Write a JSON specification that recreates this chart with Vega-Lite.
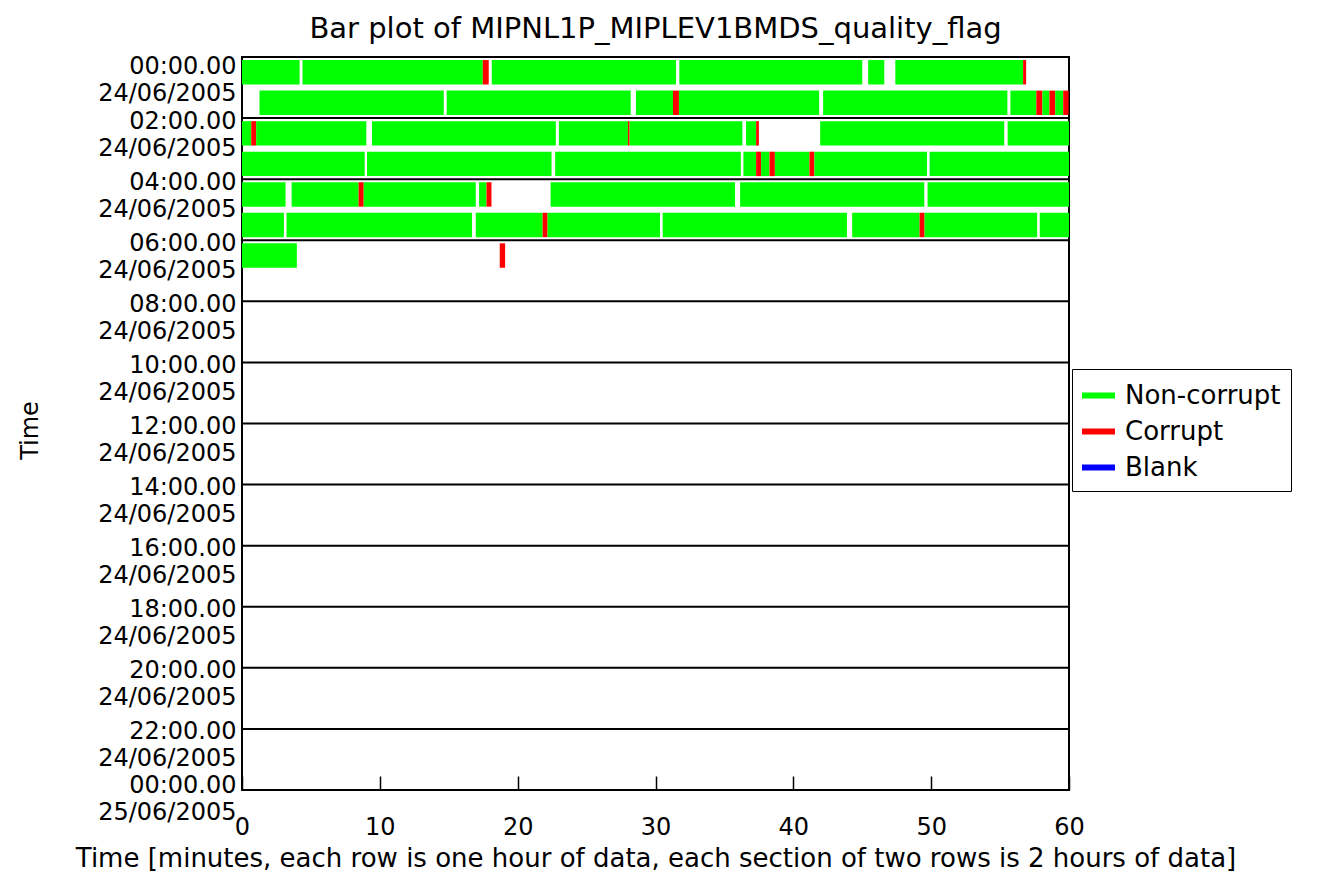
{
  "$schema": "https://vega.github.io/schema/vega-lite/v6.json",
  "width": 827,
  "height": 733,
  "autosize": {"type": "none"},
  "padding": {"left": 242, "top": 57, "right": 263, "bottom": 85},
  "background": "white",
  "title": {"text": "Bar plot of MIPNL1P_MIPLEV1BMDS_quality_flag", "fontSize": 29, "font": "DejaVu Sans", "fontWeight": "normal", "color": "black", "offset": 10},
  "config": {"view": {"stroke": "black", "strokeWidth": 2}, "font": "DejaVu Sans"},
  "layer": [
    {
      "data": {"values": [
        {"h":0,"s":0,"e":4.18,"f":"Non-corrupt"},
        {"h":0,"s":4.39,"e":17.47,"f":"Non-corrupt"},
        {"h":0,"s":17.47,"e":17.9,"f":"Corrupt"},
        {"h":0,"s":18.12,"e":31.49,"f":"Non-corrupt"},
        {"h":0,"s":31.73,"e":45.0,"f":"Non-corrupt"},
        {"h":0,"s":45.43,"e":46.6,"f":"Non-corrupt"},
        {"h":0,"s":47.4,"e":56.67,"f":"Non-corrupt"},
        {"h":0,"s":56.67,"e":56.89,"f":"Corrupt"},
        {"h":1,"s":1.27,"e":14.64,"f":"Non-corrupt"},
        {"h":1,"s":14.85,"e":28.2,"f":"Non-corrupt"},
        {"h":1,"s":28.58,"e":31.27,"f":"Non-corrupt"},
        {"h":1,"s":31.27,"e":31.7,"f":"Corrupt"},
        {"h":1,"s":31.7,"e":41.87,"f":"Non-corrupt"},
        {"h":1,"s":42.16,"e":55.53,"f":"Non-corrupt"},
        {"h":1,"s":55.75,"e":57.63,"f":"Non-corrupt"},
        {"h":1,"s":57.63,"e":58.07,"f":"Corrupt"},
        {"h":1,"s":58.07,"e":58.58,"f":"Non-corrupt"},
        {"h":1,"s":58.58,"e":59.0,"f":"Corrupt"},
        {"h":1,"s":59.0,"e":59.58,"f":"Non-corrupt"},
        {"h":1,"s":59.58,"e":59.97,"f":"Corrupt"},
        {"h":2,"s":0,"e":0.67,"f":"Non-corrupt"},
        {"h":2,"s":0.67,"e":1.03,"f":"Corrupt"},
        {"h":2,"s":1.03,"e":9.02,"f":"Non-corrupt"},
        {"h":2,"s":9.43,"e":22.77,"f":"Non-corrupt"},
        {"h":2,"s":22.99,"e":28.0,"f":"Non-corrupt"},
        {"h":2,"s":28.0,"e":28.12,"f":"Corrupt"},
        {"h":2,"s":28.12,"e":36.3,"f":"Non-corrupt"},
        {"h":2,"s":36.57,"e":37.3,"f":"Non-corrupt"},
        {"h":2,"s":37.3,"e":37.5,"f":"Corrupt"},
        {"h":2,"s":41.95,"e":55.3,"f":"Non-corrupt"},
        {"h":2,"s":55.55,"e":60,"f":"Non-corrupt"},
        {"h":3,"s":0,"e":8.9,"f":"Non-corrupt"},
        {"h":3,"s":9.07,"e":22.46,"f":"Non-corrupt"},
        {"h":3,"s":22.72,"e":36.19,"f":"Non-corrupt"},
        {"h":3,"s":36.38,"e":37.3,"f":"Non-corrupt"},
        {"h":3,"s":37.3,"e":37.66,"f":"Corrupt"},
        {"h":3,"s":37.66,"e":38.27,"f":"Non-corrupt"},
        {"h":3,"s":38.27,"e":38.66,"f":"Corrupt"},
        {"h":3,"s":38.66,"e":41.17,"f":"Non-corrupt"},
        {"h":3,"s":41.17,"e":41.53,"f":"Corrupt"},
        {"h":3,"s":41.53,"e":49.7,"f":"Non-corrupt"},
        {"h":3,"s":49.89,"e":60,"f":"Non-corrupt"},
        {"h":4,"s":0,"e":3.16,"f":"Non-corrupt"},
        {"h":4,"s":3.6,"e":8.46,"f":"Non-corrupt"},
        {"h":4,"s":8.46,"e":8.83,"f":"Corrupt"},
        {"h":4,"s":8.83,"e":16.96,"f":"Non-corrupt"},
        {"h":4,"s":17.2,"e":17.74,"f":"Non-corrupt"},
        {"h":4,"s":17.74,"e":18.1,"f":"Corrupt"},
        {"h":4,"s":22.39,"e":35.77,"f":"Non-corrupt"},
        {"h":4,"s":36.14,"e":49.5,"f":"Non-corrupt"},
        {"h":4,"s":49.74,"e":60,"f":"Non-corrupt"},
        {"h":5,"s":0,"e":3.04,"f":"Non-corrupt"},
        {"h":5,"s":3.23,"e":16.69,"f":"Non-corrupt"},
        {"h":5,"s":16.96,"e":21.81,"f":"Non-corrupt"},
        {"h":5,"s":21.81,"e":22.17,"f":"Corrupt"},
        {"h":5,"s":22.17,"e":30.33,"f":"Non-corrupt"},
        {"h":5,"s":30.52,"e":43.89,"f":"Non-corrupt"},
        {"h":5,"s":44.27,"e":49.16,"f":"Non-corrupt"},
        {"h":5,"s":49.16,"e":49.52,"f":"Corrupt"},
        {"h":5,"s":49.52,"e":57.69,"f":"Non-corrupt"},
        {"h":5,"s":57.88,"e":60,"f":"Non-corrupt"},
        {"h":6,"s":0,"e":3.98,"f":"Non-corrupt"},
        {"h":6,"s":18.7,"e":19.09,"f":"Corrupt"}
      ]},
      "mark": {"type": "bar", "strokeWidth": 0},
      "encoding": {
        "y": {"field": "h", "type": "ordinal",
              "scale": {"domain": [0,1,2,3,4,5,6,7,8,9,10,11,12,13,14,15,16,17,18,19,20,21,22,23], "paddingInner": 0.2, "paddingOuter": 0.1},
              "axis": null},
        "x": {"field": "s", "type": "quantitative",
              "scale": {"domain": [0, 60], "nice": false, "zero": false},
              "axis": {"values": [0,10,20,30,40,50,60], "title": "Time [minutes, each row is one hour of data, each section of two rows is 2 hours of data]",
                       "titleFontSize": 26, "titleFontWeight": "normal", "titleColor": "black", "titleX": 413.5, "titleY": 68, "titleAlign": "center", "titleBaseline": "middle",
                       "labelFontSize": 24, "labelColor": "black", "labelFlush": false, "labelPadding": 39,
                       "tickSize": -14, "tickColor": "black", "tickWidth": 1.5, "domain": false, "grid": false}},
        "x2": {"field": "e"},
        "color": {"field": "f", "type": "nominal",
                  "scale": {"domain": ["Non-corrupt", "Corrupt", "Blank"], "range": ["#00ff00", "#ff0000", "#0000ff"]},
                  "legend": {"orient": "none", "legendX": 830, "legendY": 312, "title": null, "strokeColor": "black", "fillColor": "white",
                             "padding": 10, "labelFontSize": 26, "labelColor": "black", "labelOffset": 10,
                             "symbolType": "M-1,-0.18H1V0.18H-1Z", "symbolSize": 1089, "symbolStrokeWidth": 0, "symbolOpacity": 1, "rowPadding": 6}}
      }
    },
    {
      "data": {"values": [{"b":2},{"b":4},{"b":6},{"b":8},{"b":10},{"b":12},{"b":14},{"b":16},{"b":18},{"b":20},{"b":22}]},
      "mark": {"type": "rule", "color": "black", "strokeWidth": 2},
      "encoding": {
        "y": {"field": "b", "type": "quantitative",
              "scale": {"domain": [0, 24], "reverse": true, "nice": false, "zero": false},
              "axis": {"values": [0,2,4,6,8,10,12,14,16,18,20,22,24],
                       "labelExpr": "[(datum.value % 24 < 10 ? '0' : '') + (datum.value % 24) + ':00.00', datum.value == 24 ? '25/06/2005' : '24/06/2005']",
                       "labelBaseline": "top", "labelLineHeight": 27, "labelFontSize": 24, "labelColor": "black", "labelPadding": 6,
                       "labelOffset": {"condition": [{"test": "datum.value == 0", "value": -3}, {"test": "datum.value == 24", "value": -17}], "value": -9},
                       "labelOverlap": false, "labelBound": false, "labelFlush": false,
                       "ticks": false, "domain": false, "grid": false,
                       "title": "Time", "titleFontSize": 24, "titleFontWeight": "normal", "titleColor": "black",
                       "titleX": -212, "titleY": 373, "titleAngle": -90, "titleAlign": "center", "titleBaseline": "middle"}}
      }
    }
  ],
  "resolve": {"scale": {"y": "independent"}}
}
